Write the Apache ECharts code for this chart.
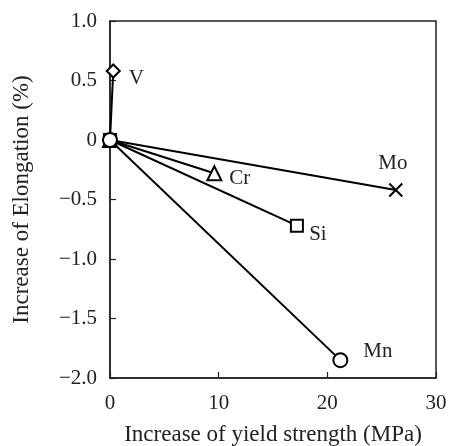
<!DOCTYPE html>
<html>
<head>
<meta charset="utf-8">
<script src="https://cdn.jsdelivr.net/npm/echarts@6/dist/echarts.min.js"></script>
<style>
  html,body{margin:0;padding:0;background:#fff;}
  #chart{width:452px;height:446px;}
</style>
</head>
<body>
<div id="chart"></div>
<script>
"use strict";

// elements and their (yield strength, elongation) increase
var elements=['V','Cr','Si','Mo','Mn'];
var yieldInc=[0.3,9.6,17.2,26.3,21.2];
var elongInc=[0.58,-0.28,-0.72,-0.42,-1.85];

// marker / label look per element
var symbols=['diamond','triangle','rect','path://M0,0L10,10M10,0L0,10','circle'];
var symbolSizes=[13,14,12,13,14];
var labelPos=['right','right','bottom','top','right'];
var labelOffset=[[2,8],[1,5],[21,-9],[-3,-2],[9,-9]];

var FONT='"Liberation Serif","DejaVu Serif",serif';
var FS=21;

var series=[];
for (var i=0;i<elements.length;i++){
  series.push({
    type:'line',
    name:elements[i],
    data:[[0,0],[yieldInc[i],elongInc[i]]],
    symbol:symbols[i],
    symbolSize:symbolSizes[i],
    showAllSymbol:true,
    z:(elements[i]=='Mn')?5:3,
    lineStyle:{color:'#000',width:2},
    itemStyle:{color:'#fff',borderColor:'#000',borderWidth:2},
    label:{
      show:true,
      position:labelPos[i],
      distance:(labelPos[i]=='bottom')?0:6,
      offset:labelOffset[i],
      color:'#222',
      fontFamily:FONT,
      fontSize:FS,
      formatter:function(p){return p.dataIndex==1?p.seriesName:'';}
    },
    emphasis:{disabled:true}
  });
}

var chart=echarts.init(document.getElementById('chart'),null,{renderer:'canvas'});
chart.setOption({
  animation:false,
  backgroundColor:'#fff',
  grid:{left:110,right:16,top:21,bottom:68,outerBoundsMode:'none',containLabel:false,
    show:true,borderColor:'#222',borderWidth:1.5},
  xAxis:{
    type:'value',min:0,max:30,interval:10,
    name:'Increase of yield strength (MPa)',
    nameLocation:'middle',nameGap:45,
    nameTextStyle:{fontFamily:FONT,fontSize:23,color:'#222'},
    axisLine:{onZero:false,lineStyle:{color:'#222',width:1.5}},
    axisTick:{inside:true,length:6,lineStyle:{color:'#222',width:1.2}},
    axisLabel:{fontFamily:FONT,fontSize:FS,color:'#222',margin:15},
    splitLine:{show:false}
  },
  yAxis:{
    type:'value',min:-2,max:1,interval:0.5,
    name:'Increase of Elongation (%)',
    nameLocation:'middle',nameGap:77,
    nameTextStyle:{fontFamily:FONT,fontSize:23,color:'#222'},
    axisLine:{onZero:false,lineStyle:{color:'#222',width:1.5}},
    axisTick:{inside:true,length:6,lineStyle:{color:'#222',width:1.2}},
    axisLabel:{
      fontFamily:FONT,fontSize:FS,color:'#222',margin:13,
      formatter:function(v){
        if (v==0) return '0';
        return v.toFixed(1).replace('-','\u2212');
      }
    },
    splitLine:{show:false}
  },
  series:series
});
</script>
</body>
</html>
